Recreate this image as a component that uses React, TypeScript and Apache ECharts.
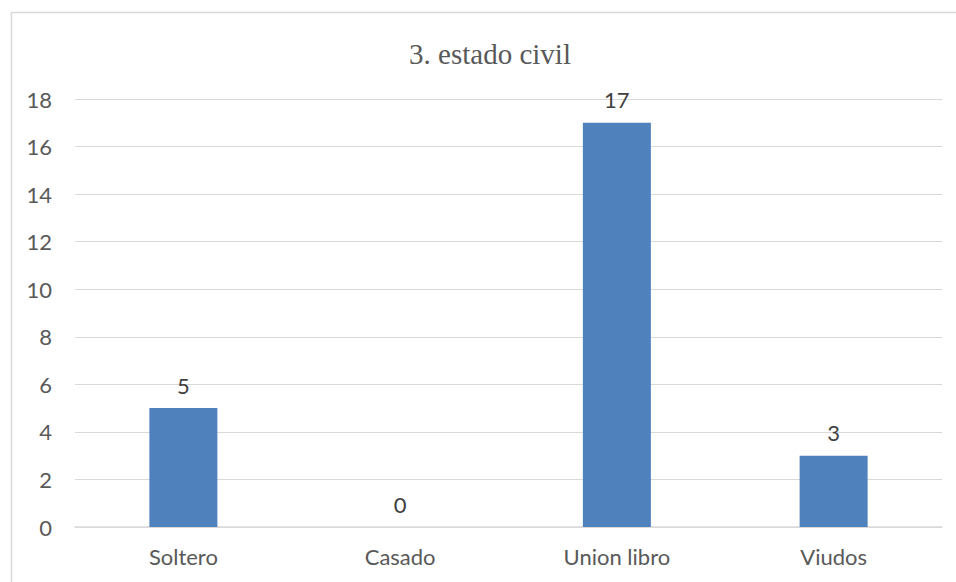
import React, { useEffect, useRef } from "react";
import * as echarts from "echarts";

const categories = ["Soltero", "Casado", "Union libro", "Viudos"];
const values = [5, 0, 17, 3];
const yTicks = { min: 0, max: 18, interval: 2 };

export default function App() {
  const ref = useRef<HTMLDivElement>(null);
  useEffect(() => {
    if (!ref.current) return;
    const chart = echarts.init(ref.current, null, { renderer: "svg" });
    chart.setOption({
      animation: false,
      backgroundColor: "#ffffff",
      title: {
        text: "3. estado civil",
        left: 485,
        textAlign: "center",
        top: 34,
        textStyle: {
          fontFamily: "Liberation Serif",
          fontSize: 29,
          fontWeight: "normal",
          color: "#595959",
        },
      },
      graphic: [
        {
          type: "rect",
          shape: { x: 11.5, y: 12.5, width: 1000, height: 700 },
          style: { fill: "none", stroke: "#d9d9d9", lineWidth: 1.5 },
          silent: true,
        },
      ],
      grid: { left: 75, right: 14, top: 99, bottom: 55 },
      xAxis: {
        type: "category",
        data: categories,
        axisLine: { show: true, lineStyle: { color: "#d9d9d9", width: 1.5 } },
        axisTick: { show: false },
        axisLabel: {
          color: "#595959",
          fontFamily: "Lato",
          fontSize: 22,
          margin: 18,
        },
      },
      yAxis: {
        type: "value",
        min: yTicks.min,
        max: yTicks.max,
        interval: yTicks.interval,
        axisLine: { show: false },
        axisTick: { show: false },
        splitLine: { lineStyle: { color: "#d9d9d9", width: 1.2 } },
        axisLabel: {
          color: "#595959",
          fontFamily: "Lato",
          fontSize: 22,
          margin: 23,
        },
      },
      series: [
        {
          type: "bar",
          data: values,
          barWidth: 68,
          itemStyle: { color: "#4f81bd" },
          label: {
            show: true,
            position: "top",
            distance: 12,
            color: "#404040",
            fontFamily: "Lato",
            fontSize: 22,
          },
        },
      ],
    });
    return () => chart.dispose();
  }, []);
  return (
    <div
      ref={ref}
      style={{ position: "absolute", left: 0, top: 0, width: 956, height: 582 }}
    />
  );
}
